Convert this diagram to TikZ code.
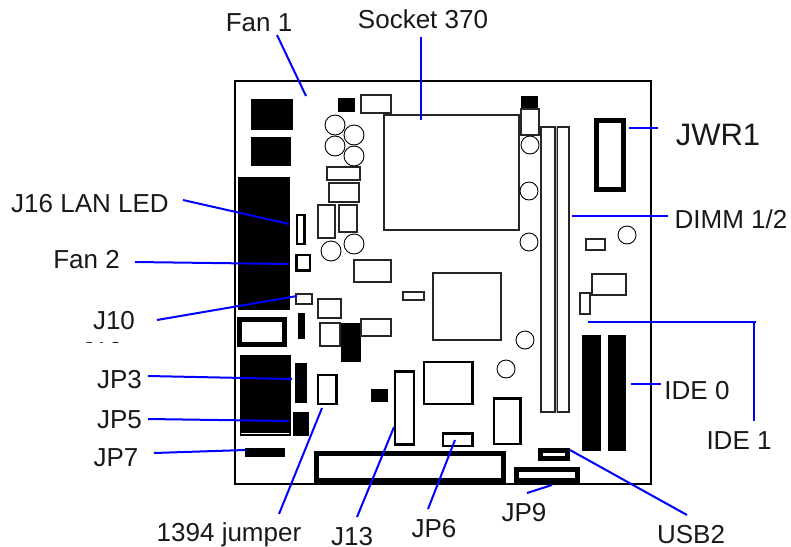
\documentclass[tikz,border=0pt]{standalone}
\usepackage{fontspec}
\setmainfont{Liberation Sans}
\newcommand{\lblsize}[1]{\fontsize{#1}{#1}\selectfont}
\tikzset{
  part/.style={draw=black!85,line width=1.1pt,fill=white},
  heavy/.style={draw=black,line width=2.6pt,fill=white},
  frame/.style={draw=black,line width=5pt,fill=white},
  solid block/.style={fill=black,draw=black,line width=0.4pt},
  capacitor/.style={draw=black,line width=0.9pt,fill=white},
  lead/.style={draw=blue,line width=2pt},
  lbl/.style={inner sep=0pt,text=black!90,anchor=base,font=\lblsize{26}},
}
\begin{document}
\begin{tikzpicture}[x=1pt,y=-1pt]
\useasboundingbox[fill=white] (0,0) rectangle (791,546);
% board
\draw[draw=black,line width=2.4pt] (235,81) rectangle (651,484);
% black blocks
\path[solid block] (251,99) rectangle (292,129);
\path[solid block] (251,137) rectangle (290,165);
\path[solid block] (238,177) rectangle (289,309);
\path[solid block] (338,98) rectangle (354,111);
\path[solid block] (298,313) rectangle (304,338);
\path[solid block] (341,323) rectangle (360,361);
\path[solid block] (240,355) rectangle (290,435);
\draw[white,line width=0.8pt] (241,433.5) -- (289,433.5);
\path[solid block] (295,363) rectangle (306,402);
\path[solid block] (293,412) rectangle (308,435);
\path[solid block] (371,389) rectangle (387,401);
\path[solid block] (245,448) rectangle (284,456);
\path[solid block] (521,96) rectangle (537,110);
\path[solid block] (582,335) rectangle (600,450);
\path[solid block] (608,335) rectangle (625,450);
% outlined parts
\path[part] (361,95) rectangle (391,113);
\path[part] (384,115) rectangle (519,230);
\path[part] (327,167) rectangle (360,180);
\path[part] (329,183) rectangle (359,202);
\path[part] (318,205) rectangle (335,238);
\path[part] (339,205) rectangle (357,232);
\path[part] (354,260) rectangle (391,282);
\path[part] (296,294) rectangle (312,304);
\path[part] (318,299) rectangle (341,318);
\path[part] (403,292) rectangle (424,300);
\path[part] (320,323) rectangle (340,346);
\path[part] (361,319) rectangle (391,336);
\path[part] (433,273) rectangle (501,340);
\path[part] (521,109) rectangle (539,135);
\fill[black!35] (555,127) rectangle (557,412);
\path[part] (541,127) rectangle (555,412);
\path[part] (557.5,127) rectangle (569,412);
\path[part] (586,239) rectangle (605,250);
\path[part] (580,293) rectangle (590,314);
\path[part] (592,274) rectangle (626,295);
% heavy parts
\path[heavy] (297,215) rectangle (304.5,244);
\path[heavy] (296.5,255) rectangle (310,270.5);
\path[heavy] (318,375) rectangle (336.5,404);
\path[heavy] (395,371.5) rectangle (414,444.5);
\path[heavy] (424,362) rectangle (472.5,404);
\path[heavy] (494,398.5) rectangle (520.5,444);
\path[heavy] (443,433.5) rectangle (472.5,446);
% frames
\path[frame] (239.5,319.5) rectangle (284.5,344);
\path[frame] (316.5,453.5) rectangle (503.5,480);
\path[frame] (596.5,120) rectangle (623.5,189.5);
\path[frame] (540.5,450.5) rectangle (567.5,458.5);
\path[frame] (516.5,469.5) rectangle (577.5,480.5);
% capacitors
\foreach \cx/\cy in {335/125,354/135,335/146,354/156,331/251,354/244}
  \path[capacitor] (\cx,\cy) circle (10);
\foreach \cx/\cy in {530/145,529/191,529/242,525/340,506/369,627/235}
  \path[capacitor] (\cx,\cy) circle (9);
% labels
\node[lbl] (fan1) at (259,31) {Fan 1};
\node[lbl] (socket) at (423,28) {Socket 370};
\node[lbl,font=\lblsize{31}] (jwr) at (718,145) {JWR1};
\node[lbl] (dimm) at (731,228) {DIMM 1/2};
\node[lbl] (ide0) at (697,399) {IDE 0};
\node[lbl] (ide1) at (739,449) {IDE 1};
\node[lbl] (usb) at (691,543) {USB2};
\node[lbl] (jp9) at (524,521) {JP9};
\node[lbl] (jp6) at (434,537) {JP6};
\node[lbl] (j13) at (352,545) {J13};
\node[lbl] (j1394) at (229,541) {1394 jumper};
\node[lbl] (jp7) at (116,466) {JP7};
\node[lbl] (jp5) at (119.5,428) {JP5};
\node[lbl] (jp3) at (119.5,388) {JP3};
\node[lbl] (j10) at (114,329) {J10};
\node[lbl] (fan2) at (86.5,268) {Fan 2};
\node[lbl] (j16) at (90,212) {J16 LAN LED};
\begin{scope}
\clip (80,340.5) rectangle (125,342);
\node[lbl] (j10b) at (102,360) {J10};
\end{scope}
% leader ends
\coordinate (e1a) at (277,35); \coordinate (e1) at (306,96);
\coordinate (s1a) at (420.5,37); \coordinate (s1) at (420.5,119.5);
\coordinate (w1a) at (629,128); \coordinate (w1) at (658,128);
\coordinate (d1a) at (572,216); \coordinate (d1) at (668,216);
\coordinate (i1a) at (588,322); \coordinate (i1b) at (756,322);
\coordinate (i1d) at (754,322); \coordinate (i1c) at (754,421);
\coordinate (i0a) at (631,384); \coordinate (i0b) at (661,384);
\coordinate (ua) at (570,450); \coordinate (ub) at (687,515);
\coordinate (9a) at (552,485); \coordinate (9b) at (527,493);
\coordinate (6a) at (455,440); \coordinate (6b) at (428,509);
\coordinate (13a) at (394,427); \coordinate (13b) at (357,517);
\coordinate (14a) at (322,408); \coordinate (14b) at (279,514);
\coordinate (7a) at (154,453); \coordinate (7b) at (245,450);
\coordinate (5a) at (148,419); \coordinate (5b) at (289,421);
\coordinate (3a) at (148,376); \coordinate (3b) at (292,379);
\coordinate (10a) at (157,320); \coordinate (10b) at (297,296);
\coordinate (f2a) at (135,262); \coordinate (f2b) at (289,264);
\coordinate (16a) at (183,200); \coordinate (16b) at (289,224);
\draw[lead] (e1a) -- (e1);
\draw[lead] (s1a) -- (s1);
\draw[lead] (w1a) -- (w1);
\draw[lead] (d1a) -- (d1);
\draw[lead] (i1a) -- (i1b);
\draw[lead] (i1d) -- (i1c);
\draw[lead] (i0a) -- (i0b);
\draw[lead] (ua) -- (ub);
\draw[lead] (9a) -- (9b);
\draw[lead] (6a) -- (6b);
\draw[lead] (13a) -- (13b);
\draw[lead] (14a) -- (14b);
\draw[lead] (7a) -- (7b);
\draw[lead] (5a) -- (5b);
\draw[lead] (3a) -- (3b);
\draw[lead] (10a) -- (10b);
\draw[lead] (f2a) -- (f2b);
\draw[lead] (16a) -- (16b);
\end{tikzpicture}
\end{document}
